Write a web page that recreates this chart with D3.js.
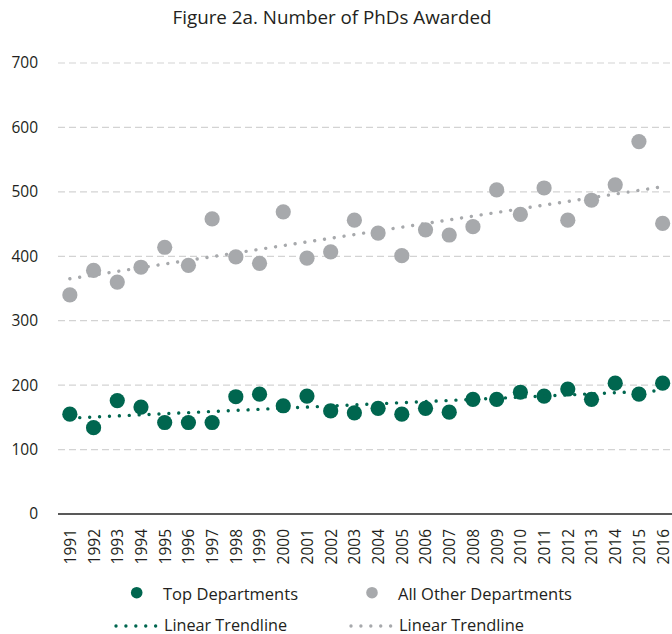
<!DOCTYPE html>
<html>
<head>
<meta charset="utf-8">
<script src="https://cdn.jsdelivr.net/npm/d3@7.9.0/dist/d3.min.js"></script>
<style>
  body { margin: 0; background: #fff; }
  text { font-family: "Open Sans", "Noto Sans", sans-serif; fill: #231f20; }
</style>
</head>
<body>
<svg id="chart"></svg>
<script>
const years = d3.range(1991, 2017).map(String);
const topDepts = [155, 134, 176, 166, 142, 142, 142, 182, 186, 168, 183, 160, 157,
                  164, 155, 164, 158, 178, 178, 189, 183, 194, 178, 203, 186, 203];
const otherDepts = [340, 378, 360, 383, 414, 386, 458, 399, 389, 469, 397, 407, 456,
                    436, 401, 441, 433, 446, 503, 465, 506, 456, 487, 511, 578, 451];
const yTicks = [0, 100, 200, 300, 400, 500, 600, 700];

const green = "#00664f";
const grey = "#a7a9ac";

const width = 672, height = 634;

const svg = d3.select("#chart")
    .attr("width", width)
    .attr("height", height);

const x = d3.scalePoint().domain(years).range([58, 674.5]).padding(0.5);
const y = d3.scaleLinear().domain([0, 700]).range([514, 63]);

// title
svg.append("text")
    .attr("x", 332)
    .attr("y", 24)
    .attr("text-anchor", "middle")
    .attr("font-size", 19)
    .attr("textLength", 319)
    .attr("lengthAdjust", "spacingAndGlyphs")
    .text("Figure 2a. Number of PhDs Awarded");

// gridlines
svg.append("g")
    .selectAll("line")
    .data(yTicks.filter(d => d > 0))
    .enter()
    .append("line")
    .attr("x1", 58)
    .attr("x2", width)
    .attr("y1", d => y(d))
    .attr("y2", d => y(d))
    .attr("stroke", "#d3d3d3")
    .attr("stroke-width", 1.2)
    .attr("stroke-dasharray", "7,4");

// y labels
svg.append("g")
    .selectAll("text")
    .data(yTicks)
    .enter()
    .append("text")
    .attr("x", 38)
    .attr("y", d => y(d))
    .attr("dy", "0.35em")
    .attr("text-anchor", "end")
    .attr("font-size", 15.5)
    .text(d => d);

// x axis
const xAxis = svg.append("g")
    .attr("transform", `translate(0, ${y(0)})`)
    .call(d3.axisBottom(x).tickSize(0).tickPadding(0));
xAxis.select(".domain").remove();
xAxis.append("line")
    .attr("x1", 58)
    .attr("x2", width)
    .attr("stroke", "#595959")
    .attr("stroke-width", 1.8);
xAxis.selectAll(".tick text")
    .attr("font-family", null)
    .attr("font-size", 15.5)
    .attr("fill", "#231f20")
    .attr("text-anchor", "end")
    .attr("transform", "translate(0, 15) rotate(-90)")
    .attr("x", 0)
    .attr("y", 0)
    .attr("dy", "0.35em");

// linear trendline (least squares)
function trend(values) {
    const idx = values.map((d, i) => i);
    const mx = d3.mean(idx), my = d3.mean(values);
    const slope = d3.sum(idx, i => (i - mx) * (values[i] - my)) / d3.sum(idx, i => (i - mx) ** 2);
    const icpt = my - slope * mx;
    return [0, values.length - 1].map(i => [years[i], icpt + slope * i]);
}

const line = d3.line().x(d => x(d[0])).y(d => y(d[1]));

function drawSeries(values, color) {
    svg.append("g")
        .selectAll("circle")
        .data(values)
        .enter()
        .append("circle")
        .attr("cx", (d, i) => x(years[i]))
        .attr("cy", d => y(d))
        .attr("r", 7.6)
        .attr("fill", color);

    svg.append("path")
        .datum(trend(values))
        .attr("d", line)
        .attr("fill", "none")
        .attr("stroke", color)
        .attr("stroke-width", 3.4)
        .attr("stroke-linecap", "round")
        .attr("stroke-dasharray", "0.01,9.9");
}

drawSeries(otherDepts, grey);
drawSeries(topDepts, green);

// legend
const legend = svg.append("g");
const items = [
    { color: green, label: "Top Departments", dot: 136.7, tx: 163, len: 135, trendLen: 123 },
    { color: grey, label: "All Other Departments", dot: 372, tx: 398, len: 174, trendLen: 125 }
];
items.forEach(d => {
    legend.append("circle")
        .attr("cx", d.dot)
        .attr("cy", 592.7)
        .attr("r", 5.8)
        .attr("fill", d.color);
    legend.append("text")
        .attr("x", d.tx)
        .attr("y", 600)
        .attr("font-size", 17)
        .attr("textLength", d.len)
        .attr("lengthAdjust", "spacingAndGlyphs")
        .text(d.label);
    legend.append("line")
        .attr("x1", d.tx - 47)
        .attr("x2", d.tx - 5)
        .attr("y1", 626)
        .attr("y2", 626)
        .attr("stroke", d.color)
        .attr("stroke-width", 3.4)
        .attr("stroke-linecap", "round")
        .attr("stroke-dasharray", "0.01,9.9");
    legend.append("text")
        .attr("x", d.tx + 1)
        .attr("y", 631)
        .attr("font-size", 17)
        .attr("textLength", d.trendLen)
        .attr("lengthAdjust", "spacingAndGlyphs")
        .text("Linear Trendline");
});
</script>
</body>
</html>
